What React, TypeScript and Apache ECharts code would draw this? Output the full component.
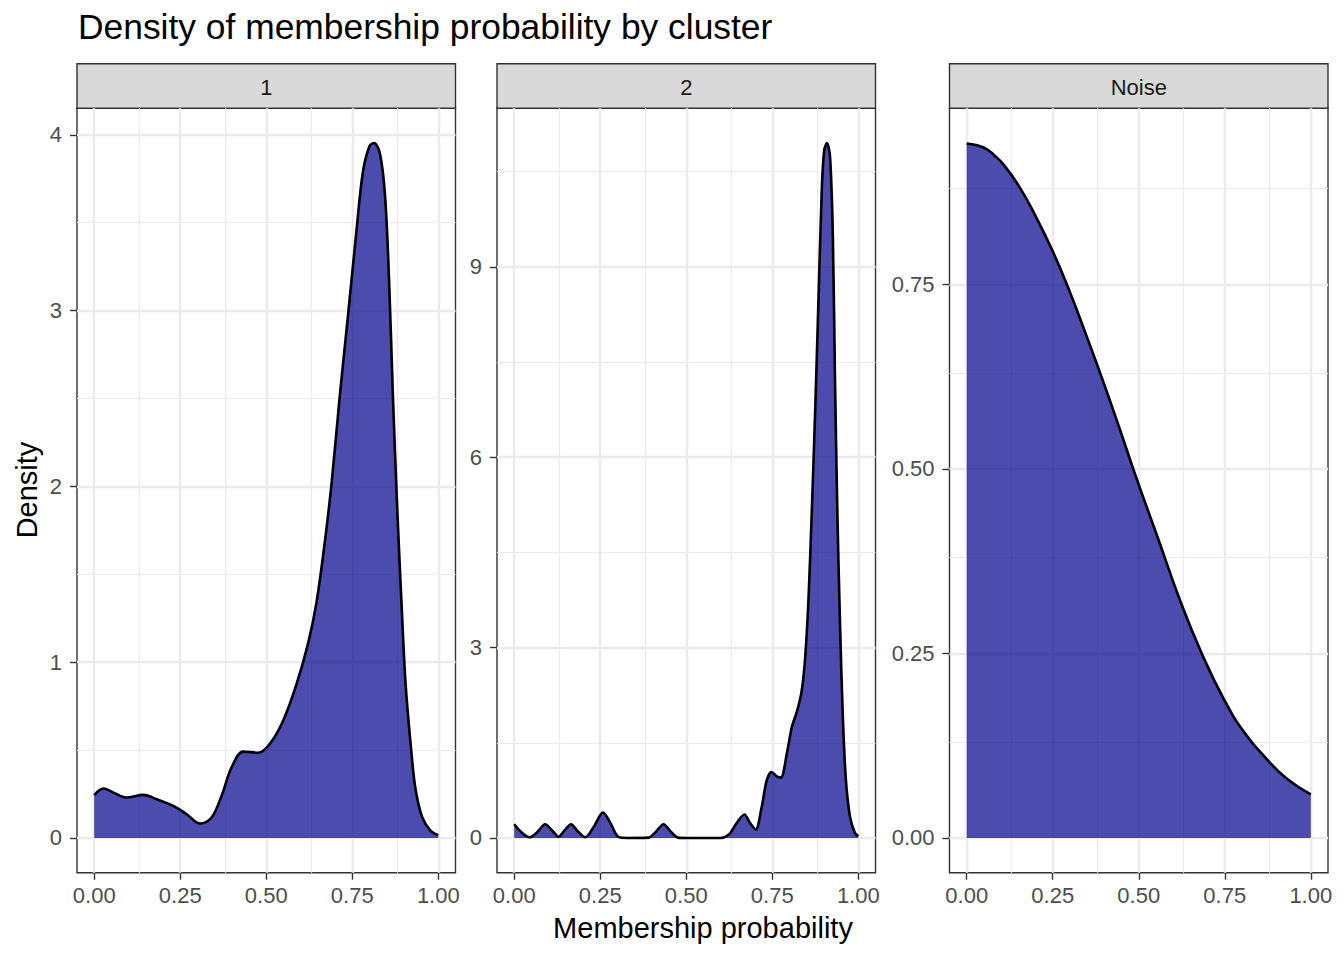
import React, { useEffect, useRef } from "react";
import * as echarts from "echarts";

const FONT = "'Liberation Sans', Arial, Helvetica, sans-serif";

// ---- labels ----
const chartTitle = "Density of membership probability by cluster";
const xTitle = "Membership probability";
const yTitle = "Density";
const panelNames = ["1", "2", "Noise"];

// ---- x scale (shared) ----
const xTicks = [0, 0.25, 0.5, 0.75, 1];
const xMinor = [0.125, 0.375, 0.625, 0.875];
const xRange = [-0.05, 1.05];

// ---- y scales (free per panel) ----
const yTicks1 = [0, 1, 2, 3, 4];
const yMinor1 = [0.5, 1.5, 2.5, 3.5];
const yRange1 = [-0.1977, 4.1507];

const yTicks2 = [0, 3, 6, 9];
const yMinor2 = [1.5, 4.5, 7.5, 10.5];
const yRange2 = [-0.5475, 11.4975];

const yTicks3 = [0, 0.25, 0.5, 0.75];
const yMinor3 = [0.125, 0.375, 0.625, 0.875];
const yRange3 = [-0.0471, 0.9887];

// ---- density curves ----
const dens1X = [0, 0.027, 0.056, 0.093, 0.143, 0.182, 0.23, 0.269, 0.3075, 0.341, 0.37, 0.399, 0.433, 0.477, 0.5106, 0.549, 0.588, 0.622, 0.646, 0.67, 0.69, 0.714, 0.738, 0.762, 0.781, 0.8, 0.813, 0.83, 0.845, 0.857, 0.868, 0.881, 0.893, 0.905, 0.922, 0.934, 0.953, 0.977, 1.0];
const dens1Y = [0.244, 0.281, 0.258, 0.23, 0.245, 0.22, 0.182, 0.135, 0.082, 0.116, 0.239, 0.4, 0.491, 0.485, 0.536, 0.667, 0.875, 1.11, 1.34, 1.68, 2.02, 2.52, 2.98, 3.45, 3.79, 3.935, 3.953, 3.896, 3.66, 3.17, 2.52, 1.86, 1.34, 0.875, 0.484, 0.276, 0.12, 0.042, 0.016];

const dens2X = [0, 0.022, 0.045, 0.066, 0.09, 0.109, 0.129, 0.145, 0.165, 0.184, 0.206, 0.23, 0.258, 0.279, 0.303, 0.33, 0.39, 0.412, 0.434, 0.455, 0.476, 0.5, 0.6, 0.625, 0.647, 0.669, 0.686, 0.702, 0.719, 0.734, 0.748, 0.763, 0.775, 0.793, 0.807, 0.822, 0.835, 0.845, 0.855, 0.865, 0.874, 0.884, 0.894, 0.901, 0.909, 0.918, 0.926, 0.932, 0.939, 0.947, 0.955, 0.964, 0.976, 0.99, 1.0];
const dens2Y = [0.216, 0.085, 0.01, 0.085, 0.216, 0.126, 0.02, 0.11, 0.216, 0.11, 0.01, 0.163, 0.4, 0.242, 0.016, 0, 0.005, 0.1, 0.216, 0.1, 0.005, 0, 0, 0.06, 0.24, 0.37, 0.23, 0.13, 0.48, 0.91, 1.04, 0.97, 0.95, 1.35, 1.75, 2.0, 2.3, 2.8, 3.73, 5.17, 6.62, 8.42, 10.23, 10.84, 10.95, 10.73, 9.5, 7.33, 5.17, 3.36, 1.92, 0.91, 0.33, 0.08, 0.03];

const dens3X = [0, 0.03, 0.058, 0.08, 0.106, 0.154, 0.202, 0.25, 0.298, 0.346, 0.394, 0.442, 0.49, 0.5575, 0.623, 0.6825, 0.748, 0.8076, 0.8728, 0.9325, 1.0];
const dens3Y = [0.941, 0.9385, 0.9335, 0.925, 0.913, 0.8816, 0.841, 0.795, 0.742, 0.683, 0.622, 0.558, 0.492, 0.404, 0.3183, 0.2507, 0.1875, 0.1425, 0.1064, 0.0794, 0.0591];

// ---- layout (px) ----
const PANEL_LEFT = [77, 497, 949.5];
const PANEL_W = 378.5;
const PANEL_TOP = 108.3;
const PANEL_H = 764.4;
const STRIP_TOP = 63.8;

const panels = [
  { name: panelNames[0], xs: dens1X, ys: dens1Y, yTicks: yTicks1, yMinor: yMinor1, yRange: yRange1, smooth: 0.35, fmt: (v: number) => String(v) },
  { name: panelNames[1], xs: dens2X, ys: dens2Y, yTicks: yTicks2, yMinor: yMinor2, yRange: yRange2, smooth: 0.3, fmt: (v: number) => String(v) },
  { name: panelNames[2], xs: dens3X, ys: dens3Y, yTicks: yTicks3, yMinor: yMinor3, yRange: yRange3, smooth: 0.5, fmt: (v: number) => v.toFixed(2) },
];

const GRID_COL = "#EBEBEB";
const DARK = "#333333";

function buildOption() {
  const grid: any[] = [];
  const xAxis: any[] = [];
  const yAxis: any[] = [];
  const series: any[] = [];
  const graphic: any[] = [];

  panels.forEach((p, i) => {
    grid.push({
      left: PANEL_LEFT[i],
      top: PANEL_TOP,
      width: PANEL_W,
      height: PANEL_H,
      show: true,
      borderColor: DARK,
      borderWidth: 1.4,
      backgroundColor: "transparent",
      containLabel: false,
      outerBoundsMode: "none",
    });
    xAxis.push({
      type: "value",
      gridIndex: i,
      min: xRange[0],
      max: xRange[1],
      axisLine: { show: false, onZero: false },
      splitLine: { show: false },
      minorSplitLine: { show: false },
      axisTick: { show: true, customValues: xTicks, length: 7, lineStyle: { color: DARK, width: 1.4 } },
      axisLabel: {
        customValues: xTicks,
        formatter: (v: number) => v.toFixed(2),
        color: "#4D4D4D",
        fontSize: 22,
        fontFamily: FONT,
        margin: 12,
      },
    });
    yAxis.push({
      type: "value",
      gridIndex: i,
      min: p.yRange[0],
      max: p.yRange[1],
      axisLine: { show: false, onZero: false },
      splitLine: { show: false },
      minorSplitLine: { show: false },
      axisTick: { show: true, customValues: p.yTicks, length: 7, lineStyle: { color: DARK, width: 1.4 } },
      axisLabel: {
        customValues: p.yTicks,
        formatter: p.fmt,
        color: "#4D4D4D",
        fontSize: 22,
        fontFamily: FONT,
        margin: 15,
      },
    });

    const major = { color: GRID_COL, width: 2.4, type: "solid" };
    const minor = { color: GRID_COL, width: 1.2, type: "solid" };
    const mlData: any[] = [
      ...xMinor.map((v) => ({ xAxis: v, lineStyle: minor })),
      ...p.yMinor.filter((v) => v < p.yRange[1]).map((v) => ({ yAxis: v, lineStyle: minor })),
      ...xTicks.map((v) => ({ xAxis: v, lineStyle: major })),
      ...p.yTicks.map((v) => ({ yAxis: v, lineStyle: major })),
    ];

    series.push({
      type: "line",
      xAxisIndex: i,
      yAxisIndex: i,
      data: p.xs.map((x, k) => [x, p.ys[k]]),
      smooth: p.smooth,
      showSymbol: false,
      symbol: "none",
      silent: true,
      z: 2,
      lineStyle: { color: "#000000", width: 2.6 },
      areaStyle: { color: "#00008B", opacity: 0.7 },
      markLine: {
        silent: true,
        z: 1,
        animation: false,
        symbol: ["none", "none"],
        label: { show: false },
        emphasis: { disabled: true },
        data: mlData,
      },
    });

    // strip
    graphic.push({
      type: "rect",
      shape: { x: PANEL_LEFT[i], y: STRIP_TOP, width: PANEL_W, height: PANEL_TOP - STRIP_TOP },
      style: { fill: "#D9D9D9", stroke: DARK, lineWidth: 1.4 },
      silent: true,
    });
    graphic.push({
      type: "text",
      x: PANEL_LEFT[i] + PANEL_W / 2,
      y: 87,
      style: { text: p.name, fill: "#1A1A1A", fontSize: 22, fontFamily: FONT, align: "center", verticalAlign: "middle" },
      silent: true,
    });
  });

  graphic.push({
    type: "text",
    x: 78,
    y: 27,
    style: { text: chartTitle, fill: "#000000", fontSize: 35.4, fontFamily: FONT, align: "left", verticalAlign: "middle" },
    silent: true,
  });
  graphic.push({
    type: "text",
    x: 703,
    y: 927.5,
    style: { text: xTitle, fill: "#000000", fontSize: 29, fontFamily: FONT, align: "center", verticalAlign: "middle" },
    silent: true,
  });
  graphic.push({
    type: "text",
    x: 27,
    y: 490,
    rotation: Math.PI / 2,
    style: { text: yTitle, fill: "#000000", fontSize: 29, fontFamily: FONT, align: "center", verticalAlign: "middle" },
    silent: true,
  });

  return {
    animation: false,
    backgroundColor: "#FFFFFF",
    textStyle: { fontFamily: FONT },
    grid,
    xAxis,
    yAxis,
    series,
    graphic,
  };
}

export default function App() {
  const ref = useRef<HTMLDivElement>(null);
  useEffect(() => {
    if (!ref.current) return;
    const chart = echarts.init(ref.current, undefined, { renderer: "svg" });
    chart.setOption(buildOption() as any);
    return () => chart.dispose();
  }, []);
  return (
    <div
      ref={ref}
      style={{ position: "fixed", left: 0, top: 0, width: 1344, height: 960, background: "#FFFFFF" }}
    />
  );
}
